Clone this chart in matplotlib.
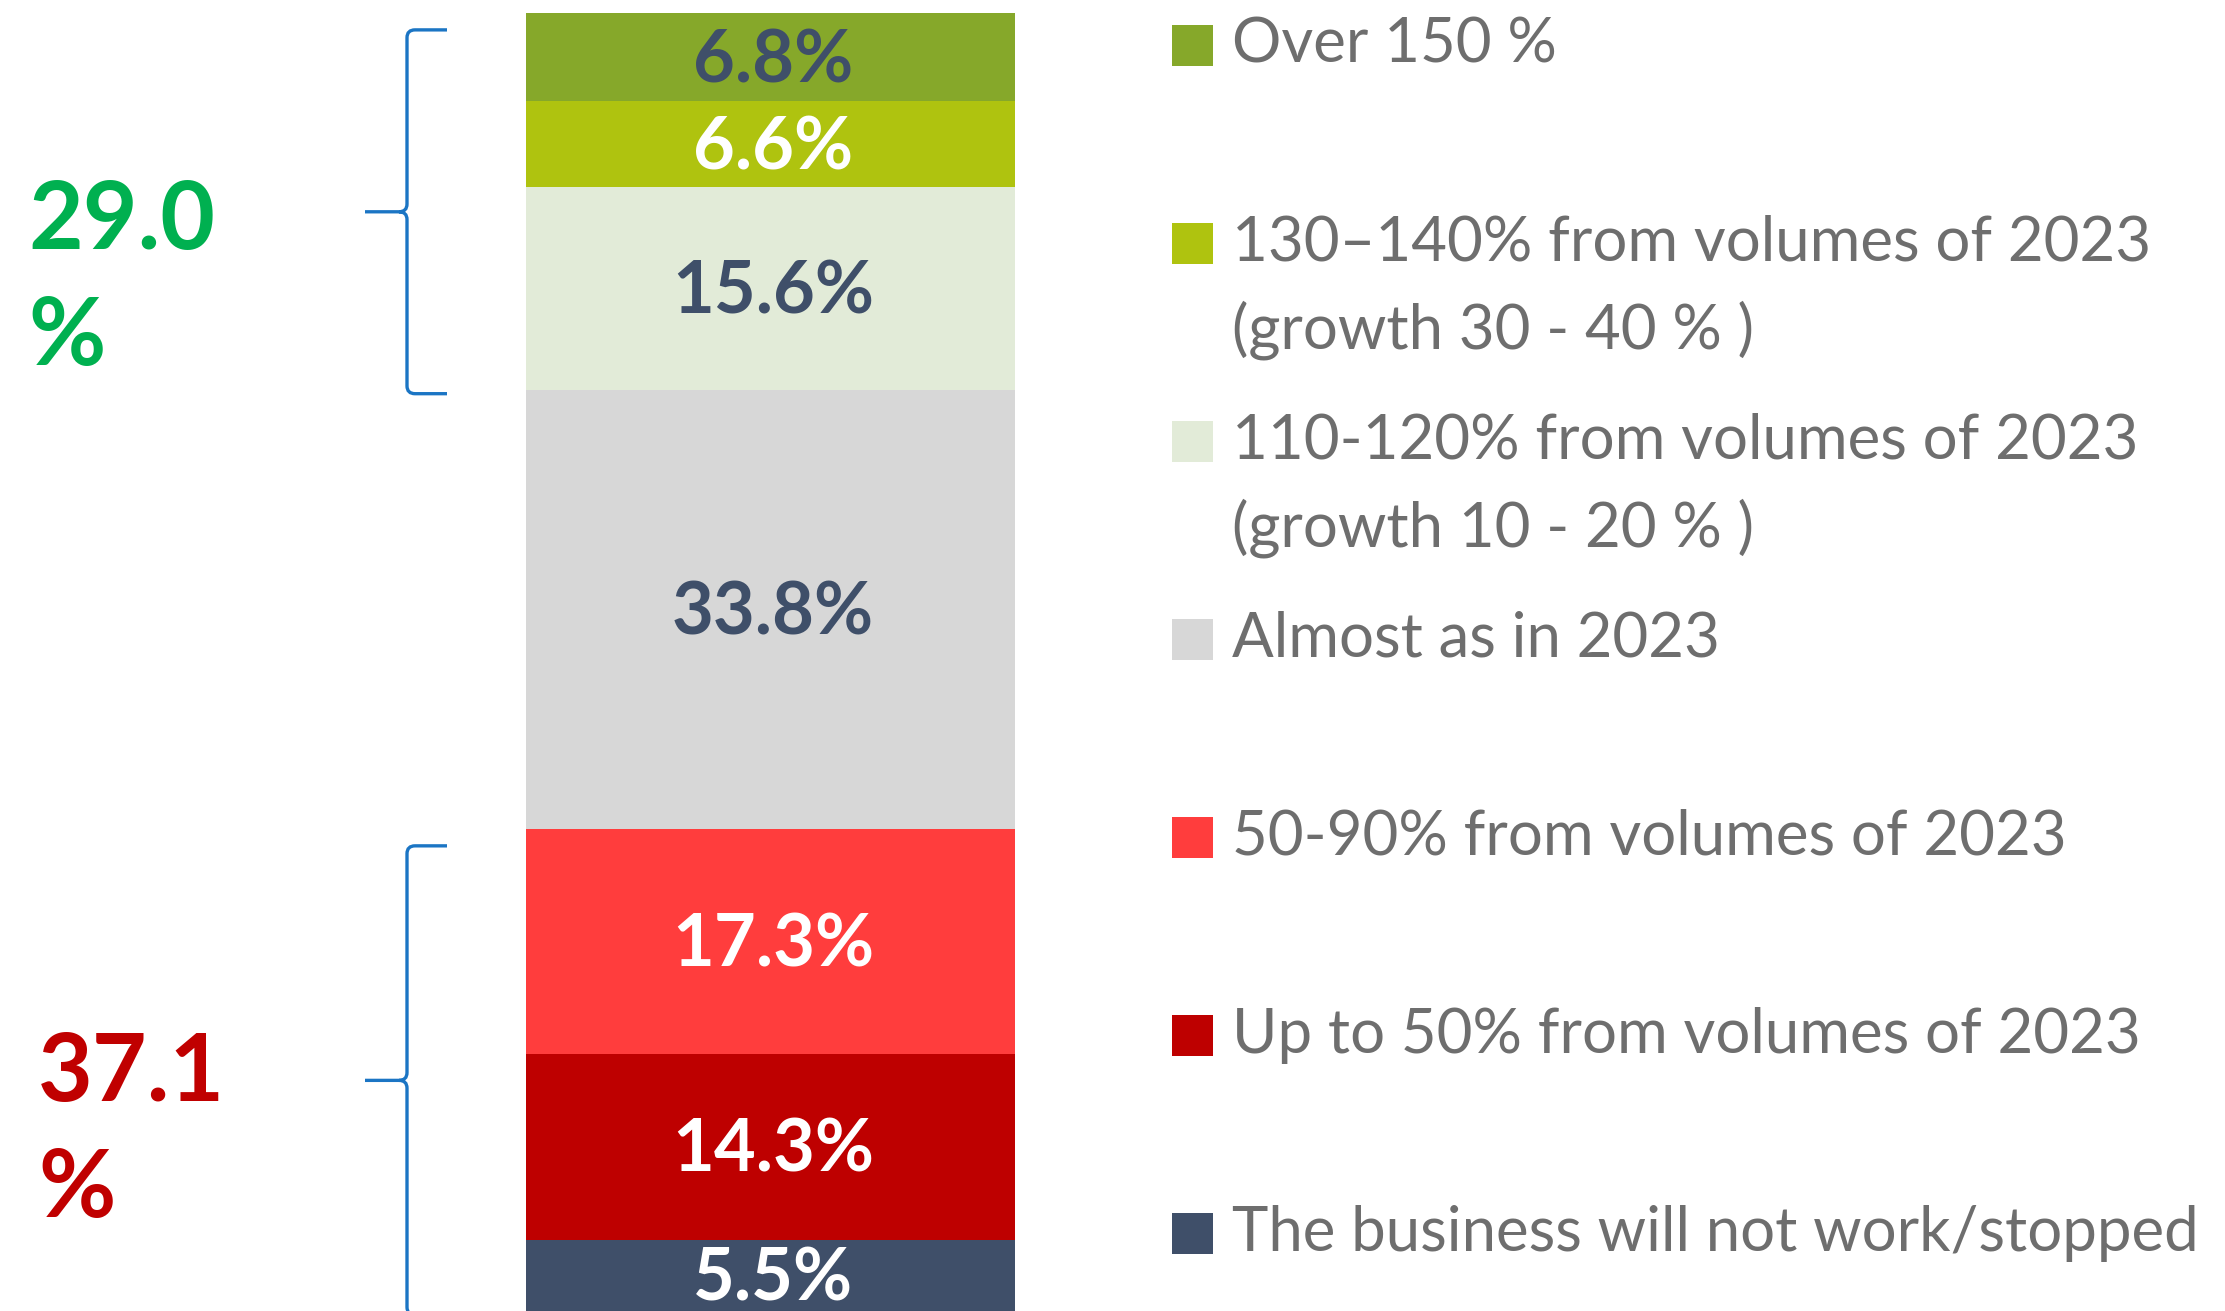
"""Stacked share bar with bracketed group totals and a side legend"""
import matplotlib.pyplot as plt
from matplotlib.patches import Rectangle, PathPatch
from matplotlib.path import Path

# Data (top to bottom)
categories = ['Over 150 %',
              '130–140% from volumes of 2023\n(growth 30 - 40 % )',
              '110-120% from volumes of 2023\n(growth 10 - 20 % )',
              'Almost as in 2023',
              '50-90% from volumes of 2023',
              'Up to 50% from volumes of 2023',
              'The business will not work/stopped']
shares = [6.8, 6.6, 15.6, 33.8, 17.3, 14.3, 5.5]
group_totals = [29.0, 37.1]
group_members = [[0, 1, 2], [4, 5, 6]]

# Styles
colors = ['#86a82a', '#afc30f', '#e2ebd8', '#d7d7d7', '#ff3d3d', '#be0000', '#3f4f69']
label_colors = ['#3f4f69', 'white', '#3f4f69', '#3f4f69', 'white', 'white', 'white']
group_colors = ['#00b050', '#c00000']
brace_color = '#1b75c4'
legend_text_color = '#6e6e6e'

W, H = 2225, 1311
fig = plt.figure(figsize=(W / 100, H / 100), dpi=100)

# bar axes: x in pixels, y in percent (top of bar = 0)
ax = fig.add_axes([0, 0, 1, 1])
ax.set_xlim(0, W)
ax.set_ylim(99.9, -1.0)
ax.axis('off')

bar_x, bar_w = 770, 489
starts = []
acc = 0
for s in shares:
    starts.append(acc)
    acc += s

for i, (s, b) in enumerate(zip(shares, starts)):
    ax.bar(bar_x, s, bottom=b, width=bar_w, color=colors[i], linewidth=0)
    ax.text(bar_x + 3, b + s / 2 + 0.35, f'{s:.1f}%', ha='center', va='center',
            fontsize=52, fontweight='bold', family='Lato', color=label_colors[i])

# Braces next to the grouped segments
x_line, x_hook, x_tick = 407, 447, 365
r = 0.6
for members in group_members:
    y0 = starts[members[0]] + 1.3
    y1 = starts[members[-1]] + shares[members[-1]] + 0.3
    mid = (y0 + y1) / 2
    verts = [(x_hook, y0), (x_line + 8, y0), (x_line, y0), (x_line, y0 + r),
             (x_line, mid - r), (x_line, mid), (x_line - 8, mid), (x_tick, mid),
             (x_line - 8, mid), (x_line, mid), (x_line, mid + r),
             (x_line, y1 - r), (x_line, y1), (x_line + 8, y1), (x_hook, y1)]
    codes = [Path.MOVETO, Path.LINETO, Path.CURVE3, Path.CURVE3,
             Path.LINETO, Path.CURVE3, Path.CURVE3, Path.LINETO,
             Path.MOVETO, Path.CURVE3, Path.CURVE3,
             Path.LINETO, Path.CURVE3, Path.CURVE3, Path.LINETO]
    ax.add_patch(PathPatch(Path(verts, codes), facecolor='none',
                           edgecolor=brace_color, linewidth=2.4))

# overlay axes in pixel coordinates for legend and group totals
ov = fig.add_axes([0, 0, 1, 1])
ov.set_xlim(0, W)
ov.set_ylim(H, 0)
ov.axis('off')

group_pos = [(28, 280), (38, 1132)]
for total, c, (gx, gy) in zip(group_totals, group_colors, group_pos):
    ov.text(gx, gy, f'{total:.1f}\n%', ha='left', va='center', fontsize=68,
            fontweight='bold', family='Lato', color=c, linespacing=1.42)

# Legend
sq = 41
for i, (cat, c) in enumerate(zip(categories, colors)):
    yc = 45 + i * 198
    ov.add_patch(Rectangle((1172, yc - sq / 2), sq, sq, color=c, linewidth=0))
    for k, line in enumerate(cat.split('\n')):
        ov.text(1232, yc + k * 87, line, ha='left', va='center', fontsize=44.5,
                family='Lato', color=legend_text_color)

fig.savefig('out.png', dpi=100)
